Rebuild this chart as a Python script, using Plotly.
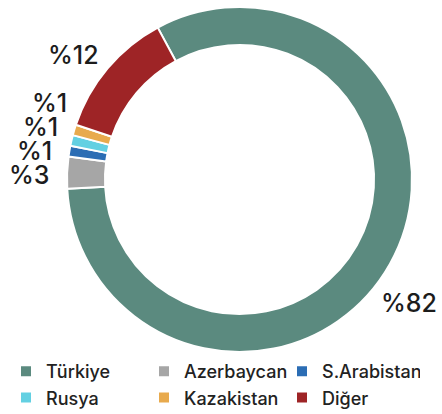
import math
import plotly.graph_objects as go

# ---- data ----
countries = ["Türkiye", "Azerbaycan", "S.Arabistan", "Rusya", "Kazakistan", "Diğer"]
shares = [82, 3, 1, 1, 1, 12]
colors = ["#5b8a7f", "#a6a6a6", "#2b6db4", "#63d0e2", "#e8aa4d", "#9e2426"]

# ---- layout constants ----
W, H = 442, 414
CX, CY, R = 239.5, 179.5, 172.5          # pixel centre / outer radius of the donut
HOLE = 0.78
ROTATION = -28.3                         # clockwise start angle of first slice
FONT = "Inter"
LABEL_R = 188
LABEL_SIZE = 25
LABEL_STEP = 24
LABEL_ANGLE_SHIFT = {0: 10.7, 5: 2.5}    # nudges for label placement

fig = go.Figure(go.Pie(
    labels=countries,
    values=shares,
    marker=dict(colors=colors, line=dict(color="white", width=2)),
    hole=HOLE,
    sort=False,
    direction="clockwise",
    rotation=ROTATION,
    textinfo="none",
    hoverinfo="label+percent",
    domain=dict(x=[(CX - R) / W, (CX + R) / W],
                y=[(H - CY - R) / H, (H - CY + R) / H]),
))

# ---- outside percentage labels (derived from slice angles) ----
total = sum(shares)
ang = ROTATION
anns = []
left_prev_y = None
for i, (lab, v) in enumerate(zip(countries, shares)):
    mid = ang + 360 * v / total / 2
    ang += 360 * v / total
    a = math.radians(mid + LABEL_ANGLE_SHIFT.get(i, 0))
    px = CX + LABEL_R * math.sin(a)
    py = CY - LABEL_R * math.cos(a)
    right_side = math.sin(a) > 0
    if not right_side and abs(py - CY) < LABEL_R:
        # stack left labels upward so they don't overlap
        if left_prev_y is not None and py > left_prev_y - LABEL_STEP:
            py = left_prev_y - LABEL_STEP
            px = CX - math.sqrt(max(LABEL_R ** 2 - (py - CY) ** 2, 0))
        left_prev_y = py
    if right_side:
        px -= 5
    anns.append(dict(
        x=px / W, y=1 - (py + 3) / H, xref="paper", yref="paper",
        text=f"%{v}", showarrow=False,
        xanchor="left" if right_side else "right", yanchor="middle",
        font=dict(family=FONT, size=LABEL_SIZE, color="#1c1c1c", weight=500),
    ))

fig.update_layout(
    width=W, height=H,
    margin=dict(l=0, r=0, t=0, b=0, autoexpand=False),
    paper_bgcolor="white", plot_bgcolor="white",
    showlegend=True,
    legend=dict(
        orientation="h", x=6 / W, xanchor="left", y=1 - 353 / H, yanchor="top",
        entrywidth=93,
        font=dict(family=FONT, size=18, color="#222222", weight=500),
        traceorder="normal",
    ),
    annotations=anns,
)

fig.write_html(
    "out.html",
    config={"displayModeBar": False},
    post_script="document.body.style.margin='0';document.body.style.overflow='hidden';",
)
